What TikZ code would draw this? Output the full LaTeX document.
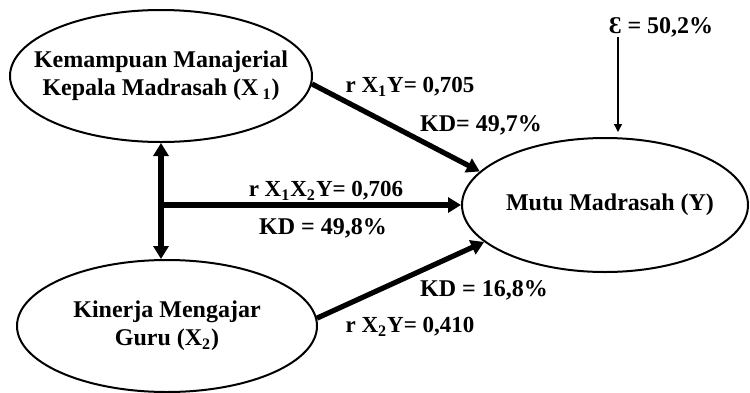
\documentclass[tikz,border=0pt]{standalone}
\usepackage{fontspec}
\setmainfont{Liberation Serif}
\usetikzlibrary{arrows.meta}
\usetikzlibrary{shapes.geometric}

\begin{document}
\begin{tikzpicture}[x=0.5pt, y=-0.5pt, font=\bfseries\fontsize{12}{14}\selectfont,
    varbox/.style={draw, line width=1pt, ellipse, inner sep=0pt},
    path arrow/.style={line width=2.6pt, -{Triangle[length=6.5pt, width=7.5pt]}},
    error arrow/.style={line width=0.7pt, -{Triangle[length=4pt, width=4pt]}, shorten >=2.5pt},
    coef/.style={inner sep=0pt, font=\bfseries\fontsize{11.5}{13}\selectfont}]

    \useasboundingbox (0,0) rectangle (750,392);

    \node[varbox, minimum width=151pt, minimum height=66pt] (X1) at (161,76) {};
    \node[varbox, minimum width=150pt, minimum height=66pt] (X2) at (167,326) {};
    \node[varbox, minimum width=143pt, minimum height=67pt] (Y) at (605,205) {};

    \node[align=center] (X1text) at (X1) {Kemampuan Manajerial\\Kepala Madrasah (X\,\textsubscript{1})};
    \node[align=center] (X2text) at (X2) {Kinerja Mengajar\\Guru (X\textsubscript{2})};
    \node (Ytext) at (610,205) {Mutu Madrasah (Y)};

    \coordinate (epsfoot) at (618,37);

    \draw[path arrow] (X1.-3) -- (Y.165);
    \draw[path arrow] (X2.3) -- (Y.197);
    \draw[path arrow, {Triangle[length=6.5pt, width=7.5pt]}-{Triangle[length=6.5pt, width=7.5pt]}] (X1.south) -- (X1.south |- X2.north);
    \draw[path arrow] (X1.south |- Y.west) -- (Y.west);
    \draw[error arrow] (epsfoot) -- (epsfoot |- Y.north);

    \node[coef] (r1) at (410,87) {r X\textsubscript{1}Y= 0,705};
    \node[inner sep=0pt] (kd1) at (481,125) {KD= 49,7\%};
    \node[coef] (r12) at (326,191) {r X\textsubscript{1}X\textsubscript{2}Y= 0,706};
    \node[inner sep=0pt] (kd12) at (323,228) {KD = 49,8\%};
    \node[inner sep=0pt] (kd2) at (484,290) {KD = 16,8\%};
    \node[coef] (r2) at (410,327) {r X\textsubscript{2}Y= 0,410};
    \node[inner sep=0pt] (eps) at (661,27) {Ɛ = 50,2\%};

\end{tikzpicture}
\end{document}
